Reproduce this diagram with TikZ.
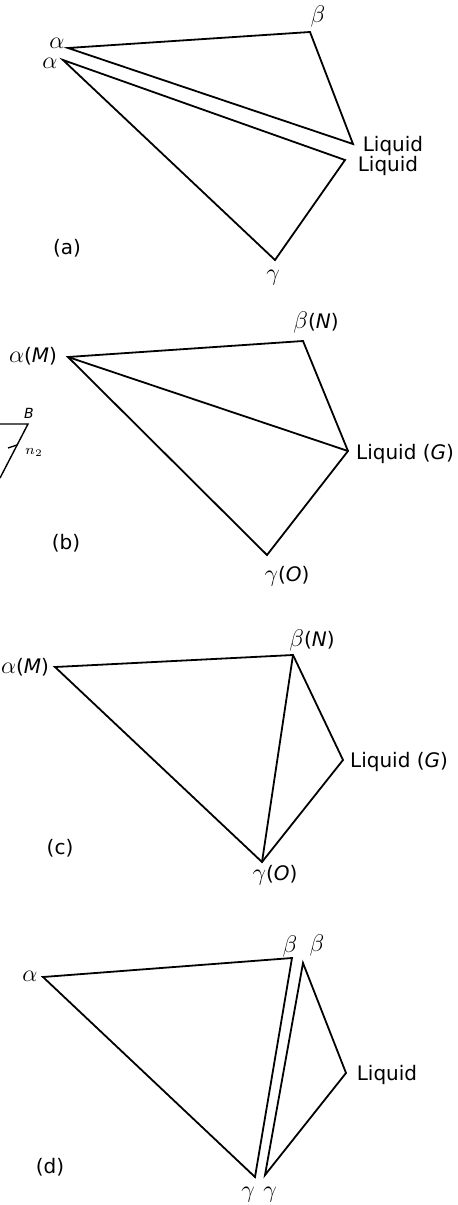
\documentclass[tikz,border=0pt]{standalone}
\usepackage{fontspec}
\setmainfont{DejaVu Sans}
\usepackage{tikz}

\newcommand{\gk}[1]{{\large$#1$}}

\begin{document}
\begin{tikzpicture}[x=0.5pt,y=-0.5pt,line width=0.9pt,
    lbl/.style={inner sep=0.5pt},
    tie/.style={line join=miter}]
  \useasboundingbox (0,0) rectangle (458,1205);

  % (a)
  \coordinate (aAlphaOne) at (68,48);
  \coordinate (aAlphaTwo) at (63,60);
  \coordinate (aBeta) at (310,32);
  \coordinate (aLiqOne) at (353,144);
  \coordinate (aLiqTwo) at (345,160);
  \coordinate (aGamma) at (275,260);
  \draw[tie] (aAlphaOne) -- (aBeta) -- (aLiqOne) -- cycle;
  \draw[tie] (aAlphaTwo) -- (aLiqTwo) -- (aGamma) -- cycle;
  \node[lbl] (laAlphaOne) at (57,43) {\gk{\alpha}};
  \node[lbl] (laAlphaTwo) at (50,63) {\gk{\alpha}};
  \node[lbl] (laBeta) at (318,16) {\gk{\beta}};
  \node[lbl] (laLiqOne) at (393,146) {Liquid};
  \node[lbl] (laLiqTwo) at (388,166) {Liquid};
  \node[lbl] (laGamma) at (273,278) {\gk{\gamma}};
  \node[lbl] (laTag) at (67,248) {(a)};

  % (b)
  \coordinate (bAlpha) at (68,357);
  \coordinate (bBeta) at (303,341);
  \coordinate (bLiq) at (348,451);
  \coordinate (bGamma) at (267,555);
  \draw[tie] (bAlpha) -- (bBeta) -- (bLiq) -- (bGamma) -- cycle;
  \draw (bAlpha) -- (bLiq);
  \node[lbl] (lbAlpha) at (33,356) {\gk{\alpha}(\textit{M})};
  \node[lbl] (lbBeta) at (316,322) {\gk{\beta}(\textit{N})};
  \node[lbl] (lbLiq) at (405,454) {Liquid (\textit{G})};
  \node[lbl] (lbGamma) at (287,576) {\gk{\gamma}(\textit{O})};
  \node[lbl] (lbTag) at (66,543) {(b)};

  % fragment of the neighbouring figure
  \coordinate (fLeft) at (0,424);
  \coordinate (fB) at (28,424);
  \coordinate (fLow) at (0,478);
  \draw[line width=0.7pt,tie] (fLeft) -- (fB) -- (fLow);
  \draw[line width=0.7pt] (8,448) -- (17,445);
  \node[lbl,font=\scriptsize] (lfB) at (29,413) {\textit{B}};
  \node[lbl,font=\scriptsize] (lfN) at (34,452) {$n_2$};

  % (c)
  \coordinate (cAlpha) at (55,667);
  \coordinate (cBeta) at (293,655);
  \coordinate (cLiq) at (343,760);
  \coordinate (cGamma) at (262,862);
  \draw[tie] (cAlpha) -- (cBeta) -- (cLiq) -- (cGamma) -- cycle;
  \draw (cBeta) -- (cGamma);
  \node[lbl] (lcAlpha) at (25,667) {\gk{\alpha}(\textit{M})};
  \node[lbl] (lcBeta) at (312,640) {\gk{\beta}(\textit{N})};
  \node[lbl] (lcLiq) at (399,762) {Liquid (\textit{G})};
  \node[lbl] (lcGamma) at (275,875) {\gk{\gamma}(\textit{O})};
  \node[lbl] (lcTag) at (60,848) {(c)};

  % (d)
  \coordinate (dAlpha) at (43,977);
  \coordinate (dBetaOne) at (292,958);
  \coordinate (dBetaTwo) at (303,963);
  \coordinate (dLiq) at (346,1073);
  \coordinate (dGammaOne) at (255,1177);
  \coordinate (dGammaTwo) at (265,1175);
  \draw[tie] (dAlpha) -- (dBetaOne) -- (dGammaOne) -- cycle;
  \draw[tie] (dBetaTwo) -- (dLiq) -- (dGammaTwo) -- cycle;
  \node[lbl] (ldAlpha) at (30,976) {\gk{\alpha}};
  \node[lbl] (ldBetaOne) at (290,946) {\gk{\beta}};
  \node[lbl] (ldBetaTwo) at (317,945) {\gk{\beta}};
  \node[lbl] (ldLiq) at (387,1075) {Liquid};
  \node[lbl] (ldGammaOne) at (248,1195) {\gk{\gamma}};
  \node[lbl] (ldGammaTwo) at (270,1195) {\gk{\gamma}};
  \node[lbl] (ldTag) at (50,1167) {(d)};
\end{tikzpicture}
\end{document}
